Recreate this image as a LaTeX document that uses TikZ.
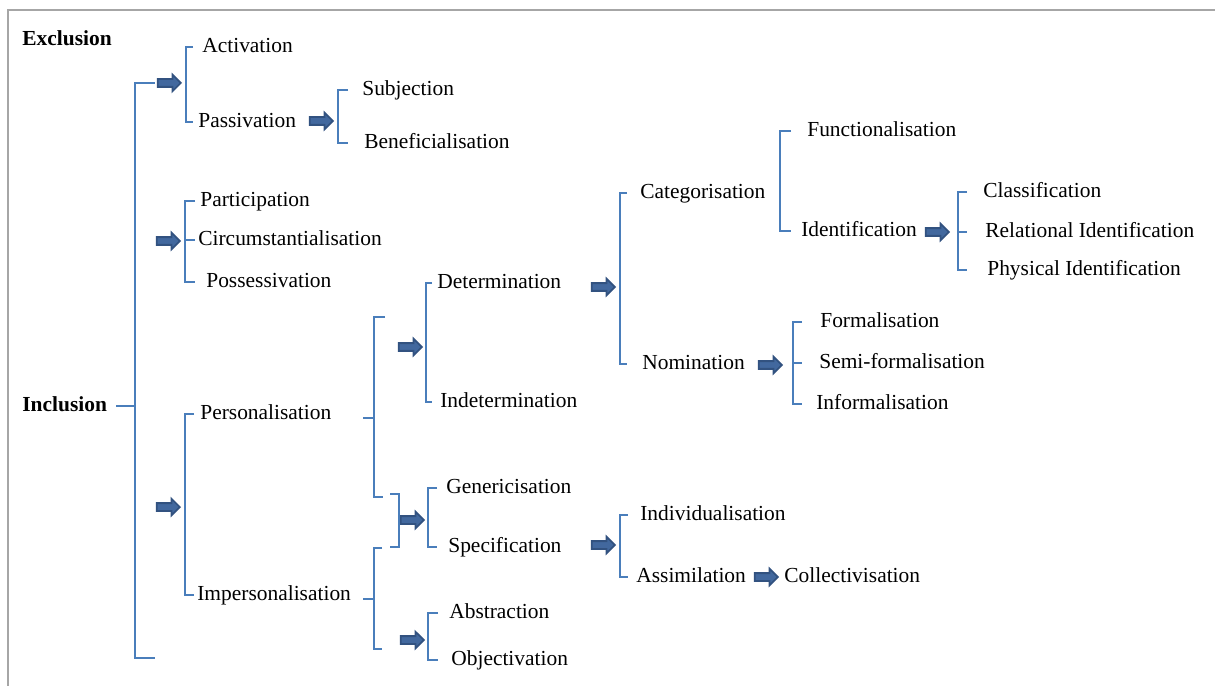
\documentclass[tikz,border=0pt]{standalone}
\usepackage{fontspec}
\setmainfont{Liberation Serif}
\usepackage{xcolor}
\usetikzlibrary{shapes.arrows}

\definecolor{brkblue}{RGB}{74,126,187}
\definecolor{arrfill}{RGB}{66,104,158}
\definecolor{arrline}{RGB}{50,82,128}

\begin{document}
\begin{tikzpicture}[
    x=0.02cm, y=-0.02cm,
    lbl/.style={anchor=west, inner sep=0pt, text height=1.4ex, text depth=0pt, font=\fontsize{12.2}{14}\selectfont},
    head/.style={lbl, font=\fontsize{12.2}{14}\selectfont\bfseries},
    brk/.style={draw=brkblue, line width=0.6pt},
    barrow/.style={single arrow, anchor=tip, fill=arrfill, draw=arrline, line width=1pt, minimum height=0.46cm, inner xsep=0pt, inner ysep=0.06cm, single arrow head extend=0.09cm}
]
\useasboundingbox (0,0) rectangle (1215,686);
\draw[gray!70, line width=1pt] (8,686) -- (8,10) -- (1215,10);

% Top level
\node[head] (excl) at (22,40) {Exclusion};
\node[head] (incl) at (22,406) {Inclusion};

% Role allocation and substitution
\node[lbl] (actv) at (202,47) {Activation};
\node[lbl] (pasv) at (198,122) {Passivation};
\node[lbl] (subj) at (362,90) {Subjection};
\node[lbl] (bene) at (364,143) {Beneficialisation};
\node[lbl] (part) at (200,201) {Participation};
\node[lbl] (circ) at (198,240) {Circumstantialisation};
\node[lbl] (poss) at (206,282) {Possessivation};
\node[lbl] (pers) at (200,414) {Personalisation};
\node[lbl] (imps) at (197,595) {Impersonalisation};

% Personalisation branch
\node[lbl] (dete) at (437,283) {Determination};
\node[lbl] (inde) at (440,402) {Indetermination};
\node[lbl] (gene) at (446,488) {Genericisation};
\node[lbl] (spec) at (448,547) {Specification};
\node[lbl] (abst) at (449,613) {Abstraction};
\node[lbl] (obje) at (451,660) {Objectivation};
\node[lbl] (cate) at (640,193) {Categorisation};
\node[lbl] (nomi) at (642,364) {Nomination};
\node[lbl] (func) at (807,131) {Functionalisation};
\node[lbl] (iden) at (801,231) {Identification};
\node[lbl] (clas) at (983,192) {Classification};
\node[lbl] (rela) at (985,232) {Relational Identification};
\node[lbl] (phys) at (987,270) {Physical Identification};
\node[lbl] (form) at (820,322) {Formalisation};
\node[lbl] (semi) at (819,363) {Semi-formalisation};
\node[lbl] (info) at (816,404) {Informalisation};
\node[lbl] (indi) at (640,515) {Individualisation};
\node[lbl] (assi) at (636,577) {Assimilation};
\node[lbl] (coll) at (784,577) {Collectivisation};

% Block arrows
\node[barrow] (arA) at (182,83) {};
\node[barrow] (arB) at (181,241) {};
\node[barrow] (arC) at (181,507) {};
\node[barrow] (arPas) at (334,121) {};
\node[barrow] (arDet) at (423,347) {};
\node[barrow] (arGen) at (425,520) {};
\node[barrow] (arAbs) at (425,640) {};
\node[barrow] (arCat) at (616,287) {};
\node[barrow] (arIde) at (950,232) {};
\node[barrow] (arNom) at (783,365) {};
\node[barrow] (arSpe) at (616,545) {};
\node[barrow] (arAss) at (779,577) {};

% Bracket spines
\coordinate (sI) at (135,407);
\coordinate (iEnd) at (155,658);
\coordinate (sA) at (186,83);
\coordinate (sS) at (338,121);
\coordinate (sB) at (185,241);
\coordinate (sC) at (185,507);
\coordinate (sP) at (374,418);
\coordinate (pTop) at (385,317);
\coordinate (pBot) at (383,497);
\coordinate (jTop) at (390,494);
\coordinate (jBot) at (390,547);
\coordinate (sM) at (374,599);
\coordinate (mTop) at (382,548);
\coordinate (mBot) at (382,649);
\coordinate (sD) at (426,347);
\coordinate (sG) at (428,520);
\coordinate (sO) at (428,640);
\coordinate (sN) at (620,287);
\coordinate (sF) at (780,181);
\coordinate (sL) at (958,232);
\coordinate (sR) at (793,365);
\coordinate (sV) at (620,545);

% Brackets
\draw[brk] (incl.east) ++(9,0) -- (sI |- incl.east);
\draw[brk] (arA.west) ++(-2,0) -| (sI) |- (iEnd);
\draw[brk] (sA |- actv.west) ++(7,0) -- (sA |- actv.west) -- (sA |- pasv.west) -- ++(7,0);
\draw[brk] (sS |- subj.west) ++(10,0) -- (sS |- subj.west) -- (sS |- bene.west) -- ++(10,0);
\draw[brk] (sB |- part.west) ++(10,0) -- (sB |- part.west) -- (sB |- poss.west) -- ++(10,0);
\draw[brk] (sB |- circ.west) -- ++(10,0);
\draw[brk] (sC |- pers.west) ++(9,0) -- (sC |- pers.west) -- (sC |- imps.west) -- ++(9,0);
\draw[brk] (sP) -- ++(-11,0);
\draw[brk] (pTop) -| (sP) |- (pBot);
\draw[brk] (jTop) -- ++(9,0) |- (jBot);
\draw[brk] (sM) -- ++(-11,0);
\draw[brk] (mTop) -| (sM) |- (mBot);
\draw[brk] (sD |- dete.west) ++(6,0) -- (sD |- dete.west) -- (sD |- inde.west) -- ++(6,0);
\draw[brk] (sG |- gene.west) ++(9,0) -- (sG |- gene.west) -- (sG |- spec.west) -- ++(9,0);
\draw[brk] (sO |- abst.west) ++(10,0) -- (sO |- abst.west) -- (sO |- obje.west) -- ++(10,0);
\draw[brk] (sN |- cate.west) ++(7,0) -- (sN |- cate.west) -- (sN |- nomi.west) -- ++(7,0);
\draw[brk] (sF |- func.west) ++(11,0) -- (sF |- func.west) -- (sF |- iden.west) -- ++(11,0);
\draw[brk] (sL |- clas.west) ++(9,0) -- (sL |- clas.west) -- (sL |- phys.west) -- ++(9,0);
\draw[brk] (sL |- rela.west) -- ++(9,0);
\draw[brk] (sR |- form.west) ++(9,0) -- (sR |- form.west) -- (sR |- info.west) -- ++(9,0);
\draw[brk] (sR |- semi.west) -- ++(9,0);
\draw[brk] (sV |- indi.west) ++(8,0) -- (sV |- indi.west) -- (sV |- assi.west) -- ++(8,0);

\end{tikzpicture}
\end{document}
